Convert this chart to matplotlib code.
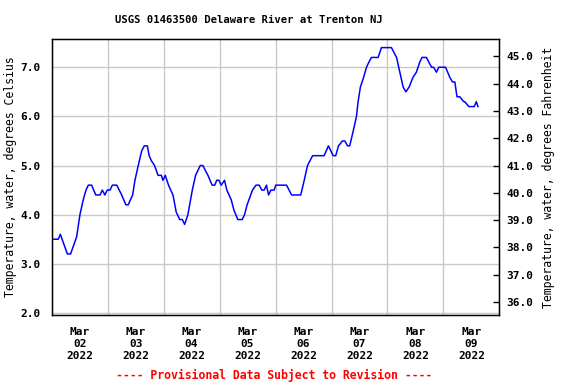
import matplotlib
matplotlib.use("Agg")
import matplotlib.pyplot as plt
import matplotlib.dates as mdates
from matplotlib.ticker import FixedLocator, FuncFormatter
import numpy as np
import datetime as dt

title = "USGS 01463500 Delaware River at Trenton NJ"
ylabel_c = "Temperature, water, degrees Celsius"
ylabel_f = "Temperature, water, degrees Fahrenheit"
footer = "---- Provisional Data Subject to Revision ----"

start = dt.datetime(2022, 3, 2, 0, 0)
end = dt.datetime(2022, 3, 10, 0, 0)

# hours since 2022-03-02 00:00 and temperature (deg C)
hours = [0, 2.8, 3.7, 6.7, 8.1, 10.7, 12.1, 13.5, 14.7, 15.7, 17.1, 18.9, 20.7,
         21.7, 22.8, 23.8, 25.0, 26.0, 27.9, 30.0, 31.8, 32.8, 34.7, 35.7, 37.1,
         38.6, 39.7, 41.0, 41.8, 42.7, 44.1, 45.6, 47.0, 47.7, 48.7, 50.1, 52.0,
         53.4, 54.9, 56.0, 57.0, 58.4, 60.3, 61.7, 63.7, 64.8, 67.0, 68.8, 69.9,
         70.8, 71.7, 72.7, 74.1, 75.1, 77.0, 78.1, 79.8, 81.7, 82.7, 83.8, 86.1,
         87.6, 89.0, 90.1, 91.1, 92.1, 93.0, 94.0, 95.4, 96.1, 100.7, 102.9,
         106.8, 108.3, 109.7, 111.9, 116.8, 118.7, 120.7, 121.8, 123.0, 124.7,
         125.7, 126.9, 127.8, 129.3, 130.7, 131.4, 132.4, 133.8, 135.0, 136.0,
         137.1, 140.0, 141.4, 145.7, 147.9, 149.3, 150.7, 151.9, 153.3, 155.0,
         156.4, 157.8, 158.8, 160.7, 162.9, 163.8, 165.0, 166.0, 168.9, 170.7,
         171.9, 172.9, 173.8, 175.0, 176.7, 177.1, 178.9, 181.2, 182.1, 182.8]
temps = [3.5, 3.5, 3.6, 3.2, 3.2, 3.55, 4.0, 4.3, 4.5, 4.6, 4.6, 4.4, 4.4,
         4.5, 4.4, 4.5, 4.5, 4.6, 4.6, 4.4, 4.2, 4.2, 4.4, 4.7, 5.0,
         5.3, 5.4, 5.4, 5.2, 5.1, 5.0, 4.8, 4.8, 4.7, 4.8, 4.6, 4.4,
         4.05, 3.9, 3.9, 3.8, 4.0, 4.5, 4.8, 5.0, 5.0, 4.8, 4.6, 4.6,
         4.7, 4.7, 4.6, 4.7, 4.5, 4.3, 4.1, 3.9, 3.9, 4.0, 4.2, 4.5,
         4.6, 4.6, 4.5, 4.5, 4.6, 4.4, 4.5, 4.5, 4.6, 4.6, 4.4,
         4.4, 4.7, 5.0, 5.2, 5.2, 5.4, 5.2, 5.2, 5.4, 5.5,
         5.5, 5.4, 5.4, 5.7, 6.0, 6.3, 6.6, 6.8, 7.0, 7.1,
         7.2, 7.2, 7.4, 7.4, 7.2, 6.9, 6.6, 6.5, 6.6, 6.8,
         6.9, 7.1, 7.2, 7.2, 7.0, 7.0, 6.9, 7.0, 7.0, 6.8,
         6.7, 6.7, 6.4, 6.4, 6.3, 6.3, 6.2, 6.2, 6.3, 6.2]

c_ticks = [2.0, 3.0, 4.0, 5.0, 6.0, 7.0]
f_ticks = [36.0, 37.0, 38.0, 39.0, 40.0, 41.0, 42.0, 43.0, 44.0, 45.0]
ylim_c = (1.957, 7.575)

times = [start + dt.timedelta(hours=h) for h in hours]

mono = "DejaVu Sans Mono"
plt.rcParams['font.family'] = mono
plt.rcParams['font.weight'] = 'bold'

fig = plt.figure(figsize=(5.76, 3.84), dpi=100)
ax = fig.add_axes([0.0898, 0.1797, 0.867 - 0.0898, 0.8984 - 0.1797])

ax.plot(times, temps, color="#0000ff", lw=1.1)
ax.set_xlim(start, end)
ax.set_ylim(*ylim_c)

ax.yaxis.set_major_locator(FixedLocator(c_ticks))
ax.yaxis.set_major_formatter(FuncFormatter(lambda v, p: f"{v:.1f}"))
ax.tick_params(axis='y', length=0, pad=8, labelsize=8)

ax.xaxis.set_major_locator(mdates.DayLocator())
ax.xaxis.set_major_formatter(FuncFormatter(lambda v, p: ""))
ax.xaxis.set_minor_locator(mdates.HourLocator(byhour=[12]))
ax.xaxis.set_minor_formatter(mdates.DateFormatter("%b\n%d\n%Y"))
ax.tick_params(axis='x', which='both', length=0, pad=9, labelsize=8)
for lab in ax.xaxis.get_minorticklabels():
    lab.set_linespacing(1.2)

ax.grid(True, which='major', color="#c8c8c8", lw=1.0)
ax.set_axisbelow(True)
for s in ax.spines.values():
    s.set_color("black")
    s.set_linewidth(1.0)

ax2 = ax.twinx()
ax2.set_ylim(ylim_c[0] * 9 / 5 + 32, ylim_c[1] * 9 / 5 + 32)
ax2.yaxis.set_major_locator(FixedLocator(f_ticks))
ax2.yaxis.set_major_formatter(FuncFormatter(lambda v, p: f"{v:.1f}"))
ax2.tick_params(axis='y', direction='in', length=4, width=1, pad=5, labelsize=8, color='black')

ax.set_ylabel(ylabel_c, fontsize=8.3, labelpad=2.5)
ax2.set_ylabel(ylabel_f, fontsize=8.3, labelpad=6.5)

fig.text(249 / 576, 1 - 20 / 384, title, ha='center', va='center', fontsize=7.6)
fig.text(274 / 576, 1 - 375 / 384, footer, ha='center', va='center', fontsize=8.3, color='red')

fig.savefig("out.png", dpi=100)
